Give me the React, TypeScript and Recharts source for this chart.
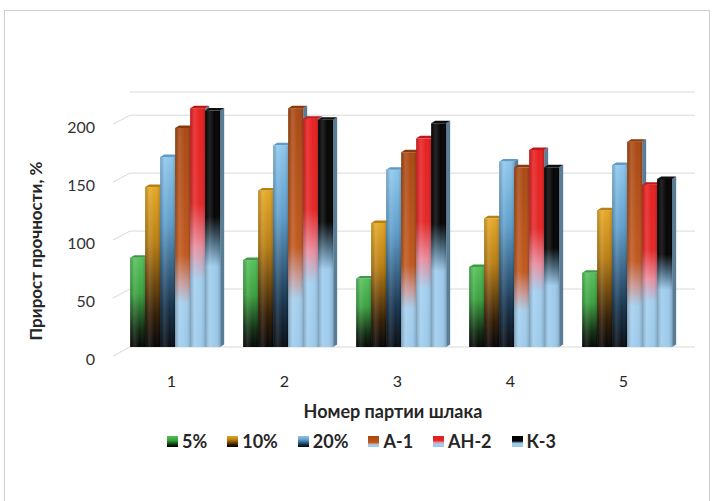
import { BarChart, Bar, XAxis, YAxis, CartesianGrid, Label } from "recharts"

const categories = ["1", "2", "3", "4", "5"]
const s5 = [77, 75, 59, 69, 64]
const s10 = [138, 135, 107, 111, 118]
const s20 = [164, 174, 153, 160, 157]
const a1 = [189, 206, 168, 155, 177]
const an2 = [206, 197, 180, 170, 140]
const k3 = [204, 196, 193, 155, 145]
const yTicks = [0, 50, 100, 150, 200]

type Stop = [number, string]

const series: { key: string; name: string; stops: Stop[]; cap: string }[] = [
  { key: "s5", name: "5%", cap: "#3f9a43", stops: [[0, "#52bf58"], [0.4, "#38a03d"], [0.8, "#0c2a0e"], [1, "#000"]] },
  { key: "s10", name: "10%", cap: "#b88010", stops: [[0, "#e4a622"], [0.35, "#b87c10"], [0.8, "#2e1800"], [1, "#000"]] },
  { key: "s20", name: "20%", cap: "#5d9bc8", stops: [[0, "#8cc6ec"], [0.35, "#5c9cca"], [0.78, "#13304a"], [1, "#03080e"]] },
  { key: "a1", name: "А-1", cap: "#8a3a0c", stops: [[0, "#a84610"], [0.58, "#c0561a"], [0.7, "#c89490"], [0.8, "#a4ceec"], [1, "#9ccaec"]] },
  { key: "an2", name: "АН-2", cap: "#c01818", stops: [[0, "#e81c1c"], [0.4, "#e42424"], [0.58, "#e88c9c"], [0.72, "#a2ceee"], [1, "#9ccaec"]] },
  { key: "k3", name: "К-3", cap: "#101010", stops: [[0, "#000"], [0.45, "#000"], [0.56, "#4a6a80"], [0.66, "#9ccaec"], [1, "#9ccaec"]] },
]

const data = categories.map((c, i) => ({
  name: c,
  s5: s5[i],
  s10: s10[i],
  s20: s20[i],
  a1: a1[i],
  an2: an2[i],
  k3: k3[i],
}))

const font = "Lato, 'Open Sans', sans-serif"

function Bar3D(props: any) {
  const { x, y, width, height, gid, cap } = props
  if (!height || height <= 0) return null
  const d = 4
  const up = 2.5
  return (
    <g>
      <polygon
        points={`${x + width},${y} ${x + width + d},${y - up} ${x + width + d},${y + height - up} ${x + width},${y + height}`}
        fill="#5a7d96"
      />
      <rect x={x} y={y} width={width} height={height} fill={`url(#${gid})`} />
      <rect x={x} y={y} width={width} height={height} fill="url(#shine)" />
      <polygon
        points={`${x},${y} ${x + d},${y - up} ${x + width + d},${y - up} ${x + width},${y}`}
        fill={cap}
      />
    </g>
  )
}

function YTick(props: any) {
  const { x, y, payload } = props
  return (
    <g>
      <line x1={x - 7} y1={y + 9} x2={x + 10} y2={y} stroke="#d9d9d9" strokeWidth={1} />
      <text x={x - 25} y={y + 11.5} textAnchor="end" dominantBaseline="central" fontSize={16} fontFamily={font} fill="#333">
        {payload.value}
      </text>
    </g>
  )
}

function XTick(props: any) {
  const { x, y, payload } = props
  return (
    <text x={x - 5} y={y + 33} textAnchor="middle" dominantBaseline="central" fontSize={16} fontFamily={font} fill="#262626">
      {payload.value}
    </text>
  )
}

function gridLine(p: any) {
  return (
    <line key={p.key} x1={p.x1 + 10} y1={p.y1} x2={p.x2 + 10} y2={p.y2} stroke="#d9d9d9" strokeWidth={1} />
  )
}

function cssGrad(stops: Stop[]) {
  return `linear-gradient(to bottom, ${stops.map(([o, c]) => `${c} ${o * 100}%`).join(", ")})`
}

export default function App() {
  return (
    <div style={{ position: "absolute", left: 0, top: 0, width: 715, height: 501, overflow: "hidden", background: "#fff" }}>
      <div style={{ position: "absolute", left: 4, top: 10, width: 704, height: 520, border: "1px solid #cfcfcf" }} />
      <BarChart
        width={715}
        height={501}
        data={data}
        margin={{ top: 92, right: 30, left: 0, bottom: 114 }}
        barCategoryGap="9%"
        barGap={0}
        style={{ position: "absolute", left: 0, top: 0 }}
      >
        <defs>
          {series.map((s, i) => (
            <linearGradient key={s.key} id={`g${i}`} x1="0" y1="0" x2="0" y2="1">
              {s.stops.map(([o, c], j) => (
                <stop key={j} offset={o} stopColor={c} />
              ))}
            </linearGradient>
          ))}
          <linearGradient id="shine" x1="0" y1="0" x2="1" y2="0">
            <stop offset={0} stopColor="#000" stopOpacity={0.2} />
            <stop offset={0.3} stopColor="#fff" stopOpacity={0.14} />
            <stop offset={0.65} stopColor="#fff" stopOpacity={0.02} />
            <stop offset={1} stopColor="#000" stopOpacity={0.16} />
          </linearGradient>
        </defs>
        <CartesianGrid vertical={false} horizontal={gridLine} />
        <XAxis
          dataKey="name"
          height={40}
          axisLine={false}
          tickLine={false}
          tickSize={0}
          tickMargin={0}
          tick={<XTick />}
        >
          <Label
            content={() => (
              <text x={393} y={411} textAnchor="middle" dominantBaseline="central" fontSize={18} fontWeight={700} fontFamily={font} fill="#262626">
                Номер партии шлака
              </text>
            )}
          />
        </XAxis>
        <YAxis
          width={120}
          domain={[0, 220]}
          ticks={yTicks}
          interval={0}
          axisLine={false}
          tickLine={false}
          tickSize={0}
          tickMargin={0}
          tick={<YTick />}
        >
          <Label
            content={() => (
              <text transform="translate(35,251) rotate(-90)" textAnchor="middle" dominantBaseline="central" fontSize={17} fontWeight={700} fontFamily={font} fill="#262626">
                Прирост прочности, %
              </text>
            )}
          />
        </YAxis>
        {series.map((s, i) => (
          <Bar
            key={s.key}
            dataKey={s.key}
            name={s.name}
            isAnimationActive={false}
            shape={(p: any) => <Bar3D {...p} gid={`g${i}`} cap={s.cap} />}
          />
        ))}
      </BarChart>
      <div
        style={{
          position: "absolute",
          left: 167,
          top: 430,
          display: "flex",
          fontFamily: font,
          fontWeight: 700,
          fontSize: 18,
          color: "#262626",
        }}
      >
        {series.map((s, i) => (
          <div key={s.key} style={{ display: "flex", alignItems: "center", marginRight: i < series.length - 1 ? 20 : 0 }}>
            <span style={{ width: 11, height: 11, marginRight: 4, background: cssGrad(s.stops), display: "inline-block" }} />
            <span>{s.name}</span>
          </div>
        ))}
      </div>
    </div>
  )
}
